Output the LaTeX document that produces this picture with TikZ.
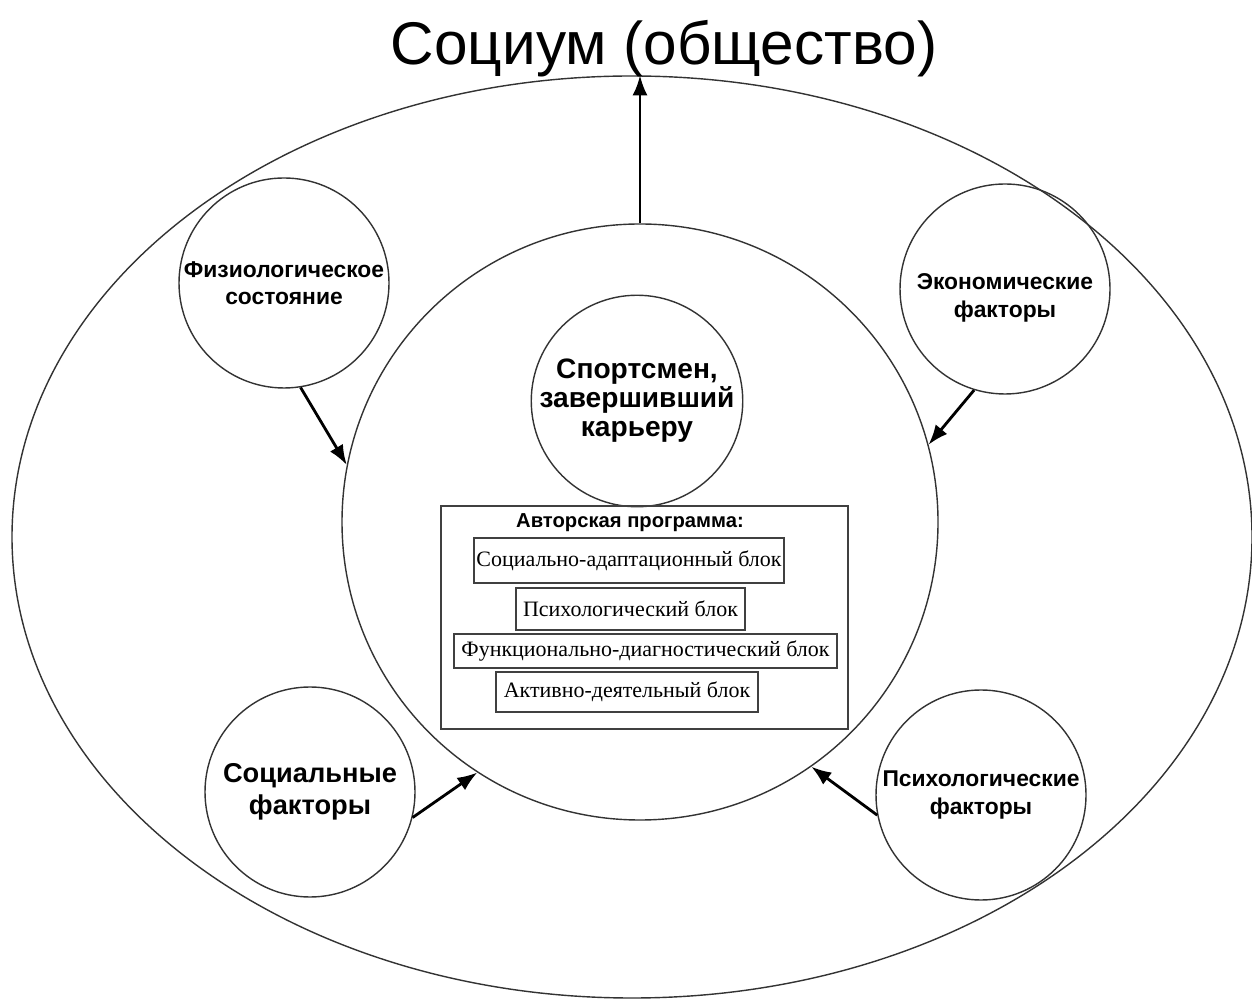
\documentclass[tikz,border=0pt]{standalone}
\usepackage{fontspec}
\setmainfont{Liberation Serif}
\newfontfamily\headfont{Liberation Sans}
\usetikzlibrary{shapes.geometric, arrows.meta}

\tikzset{
	ring/.style={shape=circle, draw=black!80, line width=0.8pt, inner sep=0pt, align=center},
	factor/.style={ring, minimum size=4.2cm, font=\headfont\bfseries\fontsize{13}{15.5}\selectfont},
	unit/.style={shape=rectangle, draw=black!75, line width=0.7pt, inner sep=0pt, font=\fontsize{12.5}{14}\selectfont},
	link/.style={-{Latex[length=0.4cm, width=0.3cm]}, line width=1.6pt},
}

\begin{document}
\begin{tikzpicture}
	% Paths, nodes and wires:
	\useasboundingbox (0,0) rectangle (25.04,19.98);
	\node[shape=ellipse, draw=black!80, line width=0.8pt, minimum width=24.8cm, minimum height=18.44cm, inner sep=0pt] (society) at (12.64, 9.24){};
	\node[anchor=center, font=\headfont\fontsize{34.3}{38}\selectfont] (title) at (13.28, 19.0){Социум (общество)};
	\node[ring, minimum size=11.92cm] (sphere) at (12.8, 9.54){};
	\node[factor, font=\headfont\bfseries\fontsize{16}{16.5}\selectfont, minimum size=4.1cm] (athlete) at (12.74, 11.96){Спортсмен,\\завершивший\\карьеру};
	\node[factor] (physio) at (5.68, 14.32){Физиологическое\\состояние};
	\node[factor, label={[align=center, font=\headfont\bfseries\fontsize{13}{15.9}\selectfont, yshift=-0.18cm]center:Экономические\\факторы}] (econ) at (20.1, 14.2){};
	\node[factor, font=\headfont\bfseries\fontsize{15.5}{18}\selectfont] (social) at (6.2, 4.14){Социальные\\факторы};
	\node[factor] (psych) at (19.62, 4.08){Психологические\\факторы};
	% program frame and its blocks
	\node[shape=rectangle, draw=black!75, line width=0.7pt, minimum width=8.14cm, minimum height=4.46cm] (program) at (12.89, 7.63){};
	\node[anchor=center, font=\headfont\bfseries\fontsize{11.5}{13}\selectfont] (programtitle) at (12.6, 9.52){Авторская программа:};
	\node[unit, minimum width=6.2cm, minimum height=0.9cm] (adapt) at (12.58, 8.77){Социально-адаптационный блок};
	\node[unit, minimum width=4.58cm, minimum height=0.84cm] (psyblock) at (12.61, 7.8){Психологический блок};
	\node[unit, minimum width=7.66cm, minimum height=0.68cm] (diag) at (12.91, 6.96){Функционально-диагностический блок};
	\node[unit, minimum width=5.24cm, minimum height=0.8cm] (active) at (12.54, 6.14){Активно-деятельный блок};
	% arrows
	\draw[link] (sphere.north) -- (sphere.north |- society.north);
	\draw[link] (physio.-81) -- (sphere.169);
	\draw[link] (econ.-107) -- (sphere.15);
	\draw[link] (social.-14) -- (sphere.-123);
	\draw[link] (psych.191) -- (sphere.-55);
\end{tikzpicture}
\end{document}
